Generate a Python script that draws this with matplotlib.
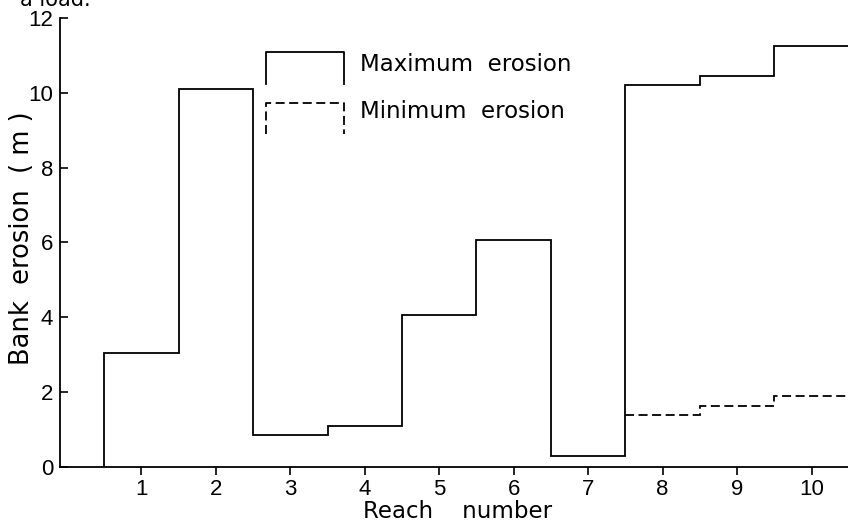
import matplotlib
matplotlib.use("Agg")
import matplotlib.pyplot as plt

plt.rcParams['font.family'] = ['DejaVu Sans']

reach_edges = [0.5, 1.5, 2.5, 3.5, 4.5, 5.5, 6.5, 7.5, 8.5, 9.5, 10.5]
max_erosion = [3.05, 10.1, 0.85, 1.1, 4.05, 6.05, 0.3, 10.2, 10.45, 11.25]
min_edges = [7.5, 8.5, 9.5, 10.5]
min_erosion = [1.39, 1.63, 1.9]
x_ticks = [1, 2, 3, 4, 5, 6, 7, 8, 9, 10]
y_ticks = [0, 2, 4, 6, 8, 10, 12]

fig = plt.figure(figsize=(8.48, 5.24), dpi=100)
ax = fig.add_axes([0.071, 0.109, 0.929, 0.857])

lw = 1.3
ax.stairs(max_erosion, reach_edges, baseline=0, color='black', linewidth=lw)
ax.stairs(min_erosion, min_edges, baseline=None, color='black', linewidth=lw,
          linestyle=(0, (5, 2.5)))

ax.set_xlim(-0.09, 10.49)
ax.set_ylim(0, 12)
ax.set_xticks(x_ticks)
ax.set_yticks(y_ticks)
ax.tick_params(axis='x', direction='out', length=6, width=1.2, labelsize=16, pad=3)
ax.tick_params(axis='y', direction='in', length=6, width=1.2, labelsize=16, pad=5)
for lab in ax.get_xticklabels() + ax.get_yticklabels():
    lab.set_fontfamily(['Liberation Sans Narrow', 'Liberation Sans', 'DejaVu Sans'])
for s in ['top', 'right']:
    ax.spines[s].set_visible(False)
for s in ['left', 'bottom']:
    ax.spines[s].set_linewidth(1.3)

ax.set_xlabel('Reach    number', fontsize=16.5)
ax.xaxis.set_label_coords(0.504, -0.074)
ax.set_ylabel('Bank  erosion  ( m )', fontsize=18.5)
ax.yaxis.set_label_coords(-0.032, 0.51)

# legend keys (bracket shapes)
ax.plot([2.68, 2.68, 3.72, 3.72], [10.24, 11.09, 11.09, 10.24], color='black', linewidth=lw)
ax.plot([2.68, 2.68, 3.72, 3.72], [8.9, 9.73, 9.73, 8.9], color='black', linewidth=lw,
        linestyle=(0, (5, 2.5)))
ax.text(3.93, 10.75, 'Maximum  erosion', fontsize=16.5, va='center', ha='left')
ax.text(3.93, 9.5, 'Minimum  erosion', fontsize=16.5, va='center', ha='left')

fig.text(0.024, 1.0, 'a load.', fontsize=15, va='center', ha='left')

fig.savefig('out.png', dpi=100)
